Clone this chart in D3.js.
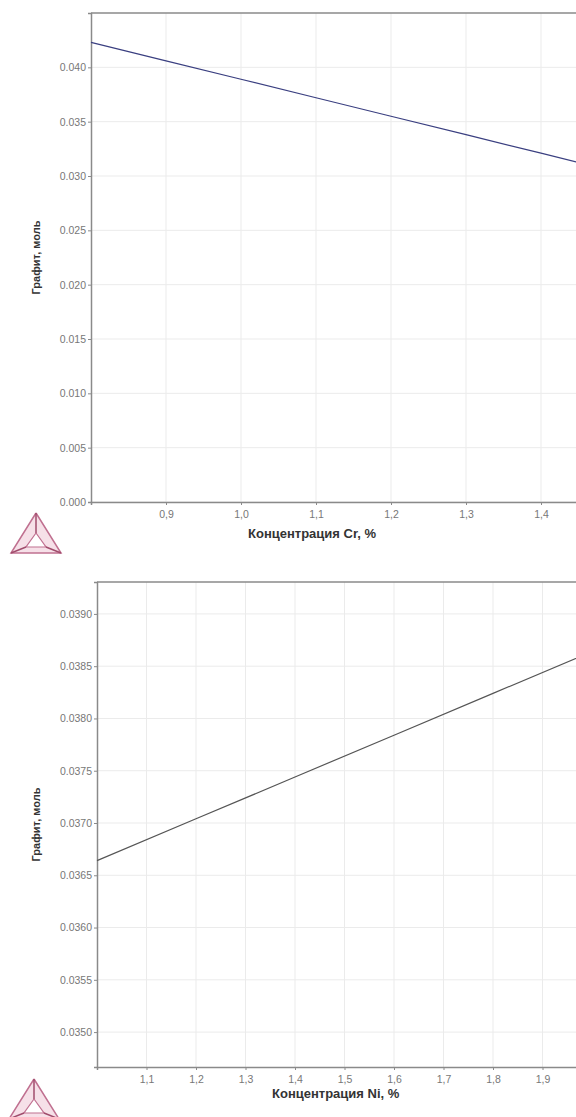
<!DOCTYPE html>
<html>
<head>
<meta charset="utf-8">
<script src="https://cdn.jsdelivr.net/npm/d3@7"></script>
<style>
  body { margin: 0; background: #fff; }
  svg { display: block; font-family: "Liberation Sans", Arial, sans-serif; }
</style>
</head>
<body>
<script>
// top chart: graphite vs Cr
const crX = [0.8, 0.9, 1.0, 1.1, 1.2, 1.3, 1.4, 1.5];
const crGraphite = [0.0423, 0.0406, 0.0389, 0.0372, 0.0355, 0.0338, 0.0321, 0.0304];
const crTicksX = [0.9, 1.0, 1.1, 1.2, 1.3, 1.4];
const crTicksY = [0.000, 0.005, 0.010, 0.015, 0.020, 0.025, 0.030, 0.035, 0.040];

// bottom chart: graphite vs Ni
const niX = [1.0, 1.2, 1.4, 1.6, 1.8, 2.0];
const niGraphite = [0.03664, 0.03704, 0.03744, 0.03784, 0.03824, 0.03864];
const niTicksX = [1.1, 1.2, 1.3, 1.4, 1.5, 1.6, 1.7, 1.8, 1.9];
const niTicksY = [0.0350, 0.0355, 0.0360, 0.0365, 0.0370, 0.0375, 0.0380, 0.0385, 0.0390];

const width = 576, height = 1117;

const svg = d3.select("body").append("svg")
  .attr("width", width)
  .attr("height", height);

function drawChart(opt) {
  const g = svg.append("g");
  const x = d3.scaleLinear().domain(opt.xDomain).range([opt.left, opt.right]);
  const y = d3.scaleLinear().domain(opt.yDomain).range([opt.bottom, opt.top]);

  // grid
  g.selectAll("line.vgrid").data(opt.xTicks).enter().append("line")
    .attr("class", "vgrid")
    .attr("x1", d => x(d)).attr("x2", d => x(d))
    .attr("y1", opt.top).attr("y2", opt.bottom)
    .attr("stroke", "#ebebeb");
  g.selectAll("line.hgrid").data(opt.yTicks).enter().append("line")
    .attr("class", "hgrid")
    .attr("x1", opt.left).attr("x2", opt.right)
    .attr("y1", d => y(d)).attr("y2", d => y(d))
    .attr("stroke", "#ebebeb");

  // frame top
  g.append("line")
    .attr("x1", opt.left).attr("x2", opt.right)
    .attr("y1", opt.top).attr("y2", opt.top)
    .attr("stroke", "#8a8a8a").attr("stroke-width", 1.5);

  const xAxis = g.append("g")
    .attr("transform", `translate(0,${opt.bottom})`)
    .call(d3.axisBottom(x).tickValues(opt.xTicks).tickSize(3)
      .tickFormat(d => d3.format(".1f")(d).replace(".", ",")));
  const yAxis = g.append("g")
    .attr("transform", `translate(${opt.left},0)`)
    .call(d3.axisLeft(y).tickValues(opt.yTicks).tickSize(3)
      .tickFormat(d3.format(opt.yFormat)));

  [xAxis, yAxis].forEach(a => {
    a.select(".domain").attr("stroke", "#8a8a8a").attr("stroke-width", 1.5);
    a.selectAll(".tick line").attr("stroke", "#8a8a8a");
    a.selectAll(".tick text").attr("fill", "#777").attr("font-size", 10.5);
  });
  xAxis.selectAll(".tick text").attr("dy", "0.95em");
  yAxis.selectAll(".tick text").attr("x", -5);

  // line
  const pts = opt.xs.map((v, i) => [v, opt.ys[i]]);
  g.append("path")
    .datum(pts)
    .attr("fill", "none")
    .attr("stroke", opt.color)
    .attr("stroke-width", 1.2)
    .attr("d", d3.line().x(d => x(d[0])).y(d => y(d[1])));

  // titles
  g.append("text")
    .attr("x", opt.xTitleX).attr("y", opt.xTitleY)
    .attr("font-size", 13).attr("font-weight", "bold").attr("fill", "#333")
    .text(opt.xTitle);
  g.append("text")
    .attr("transform", `translate(${opt.yTitleX},${(opt.top + opt.bottom) / 2}) rotate(-90)`)
    .attr("text-anchor", "middle")
    .attr("font-size", 11).attr("font-weight", "bold").attr("fill", "#333")
    .text("Графит, моль");

  drawLogo(opt.logoX, opt.logoY);
}

function drawLogo(cx, top) {
  const s = 50, h = 40;
  const A = [cx, top], B = [cx - s / 2, top + h], C = [cx + s / 2, top + h];
  const inner = [[cx, top + h * 0.5], [cx - s * 0.2, top + h * 0.85], [cx + s * 0.2, top + h * 0.85]];
  const lg = svg.append("g");
  lg.append("path")
    .attr("d", d3.line()([A, B, C, A]))
    .attr("fill", "#f6e0e8").attr("stroke", "#c07090").attr("stroke-width", 1.5);
  lg.append("path")
    .attr("d", d3.line()([...inner, inner[0]]))
    .attr("fill", "#fff").attr("stroke", "#c07090").attr("stroke-width", 1.2);
  [[A, inner[0]], [B, inner[1]], [C, inner[2]]].forEach(p => {
    lg.append("line")
      .attr("x1", p[0][0]).attr("y1", p[0][1])
      .attr("x2", p[1][0]).attr("y2", p[1][1])
      .attr("stroke", "#a04c6c").attr("stroke-width", 1.5);
  });
}

drawChart({
  left: 91, right: 620, top: 13, bottom: 502,
  xDomain: [0.8, 0.8 + 529 / 750], yDomain: [0, 0.045],
  xTicks: crTicksX, yTicks: crTicksY, yFormat: ".3f",
  xs: crX, ys: crGraphite, color: "#3a3f80",
  xTitle: "Концентрация Cr, %", xTitleX: 248, xTitleY: 538,
  yTitleX: 40, logoX: 36, logoY: 513
});

drawChart({
  left: 97, right: 620, top: 582, bottom: 1067,
  xDomain: [1.0, 1.0 + 523 / 495], yDomain: [0.0350 - 35 / 52.4 * 0.0005, 0.0390 + 32 / 52.4 * 0.0005],
  xTicks: niTicksX, yTicks: niTicksY, yFormat: ".4f",
  xs: niX, ys: niGraphite, color: "#555",
  xTitle: "Концентрация  Ni, %", xTitleX: 272, xTitleY: 1098,
  yTitleX: 40, logoX: 34, logoY: 1079
});
</script>
</body>
</html>
